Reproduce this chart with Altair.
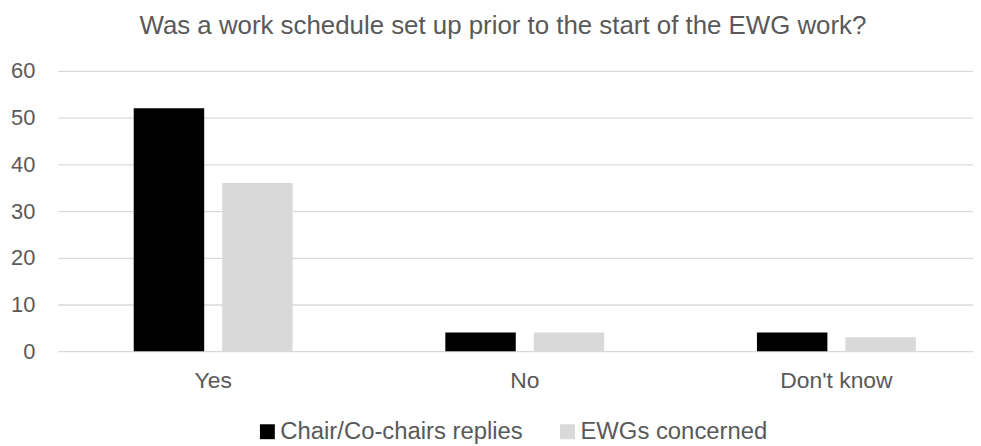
import altair as alt
import pandas as pd

categories = ["Yes", "No", "Don't know"]
series_names = ["Chair/Co-chairs replies", "EWGs concerned"]
chair_values = [52, 4, 4]
ewg_values = [36, 4, 3]

rows = []
for c, a, b in zip(categories, chair_values, ewg_values):
    rows.append({"cat": c, "series": series_names[0], "value": a})
    rows.append({"cat": c, "series": series_names[1], "value": b})
df = pd.DataFrame(rows)

FONT = "Liberation Sans"
TXT = "#595959"

chart = alt.Chart(df).mark_bar().encode(
    x=alt.X("cat:N", sort=categories, title=None,
            scale=alt.Scale(range=[1, 941], paddingInner=0.49, paddingOuter=0.244),
            axis=alt.Axis(labelAngle=0, domain=False, ticks=False, labelPadding=18,
                          labelFontSize=23, labelColor=TXT, labelFont=FONT)),
    xOffset=alt.XOffset("series:N", sort=series_names,
                        scale=alt.Scale(paddingInner=0.2034, paddingOuter=0)),
    y=alt.Y("value:Q", title=None,
            scale=alt.Scale(domain=[0, 60]),
            axis=alt.Axis(values=[0, 10, 20, 30, 40, 50, 60], domain=False, ticks=False,
                          labelPadding=22, gridColor="#d9d9d9", gridWidth=1.3,
                          labelFontSize=22, labelColor=TXT, labelFont=FONT)),
    color=alt.Color("series:N", sort=series_names,
                    scale=alt.Scale(domain=series_names, range=["#000000", "#d9d9d9"]),
                    legend=alt.Legend(title=None, orient="none", direction="horizontal",
                                      legendX=200, legendY=351, symbolType="square",
                                      symbolSize=225, symbolStrokeWidth=0,
                                      labelFontSize=24, labelColor=TXT, labelFont=FONT,
                                      labelLimit=500, columnPadding=32, labelOffset=1)),
).properties(
    width=922, height=282,
    autosize="none",
    padding={"left": 49, "top": 62, "right": 0, "bottom": 94},
    title=alt.TitleParams("Was a work schedule set up prior to the start of the EWG work?",
                          anchor="middle", frame="group", dx=-12, offset=21, fontSize=26,
                          fontWeight="normal", color=TXT, font=FONT),
).configure_view(stroke=None)

chart.save("out.html", embed_options={"renderer": "svg", "actions": False})
